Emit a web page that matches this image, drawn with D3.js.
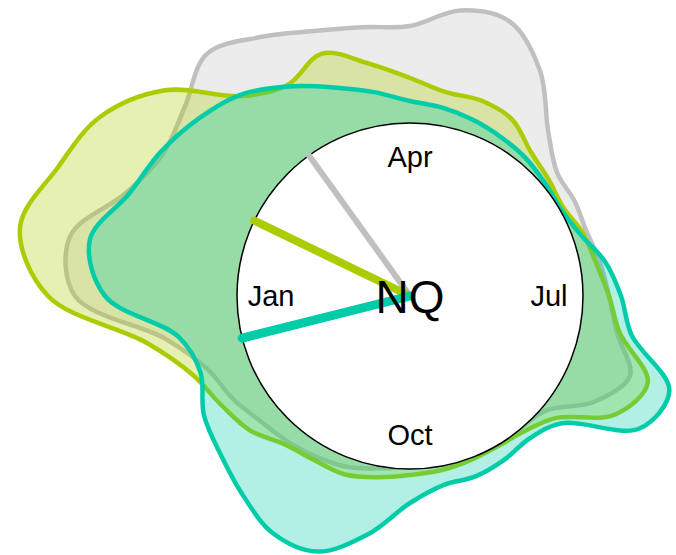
<!DOCTYPE html>
<html>
<head>
<meta charset="utf-8">
<script src="https://cdn.jsdelivr.net/npm/d3@7"></script>
<style>
  html, body { margin: 0; padding: 0; background: #fff; }
  svg { display: block; }
  text { font-family: "Liberation Sans", Arial, sans-serif; }
</style>
</head>
<body>
<svg id="chart" width="676" height="555"></svg>
<script>
// 36 dekads (10-day periods) around the year
const months = ["Jan","Feb","Mar","Apr","May","Jun","Jul","Aug","Sep","Oct","Nov","Dec"];
const dekads = months.flatMap(m => [m + "-1", m + "-2", m + "-3"]);
const monthLabels = ["Jan", "Apr", "Jul", "Oct"];
const monthLabelPos = [0, 3, 6, 9];

const seriesNames = ["grey", "yellowgreen", "teal"];
const greyValues = [167.5,172.5,151,142.5,147,158,149.5,141,136.5,135,145,146,130,107.5,96,95,94,96.5,99.5,105,117,106,89,86,86,87,86,85.5,87.5,91,93,95,97.5,102.5,107.5,124];
const yellowValues = [181,198,187.5,179,160,130.5,122,129,118,109,103.5,104,102,94,90.5,88.5,92,94.5,99.5,106.5,126.5,118.5,95,88.5,87,87.5,88.5,89.5,92,95,95,97,104.5,109,115.5,134];
const tealValues = [152.5,162.5,149.5,144,138,131.5,121,111,103.5,97.5,95.5,93.5,91.5,90,88,87,90.5,99,105.5,112.5,138,132.5,99,93,94.5,96,96,103.5,121,136,137,130,123.5,119,111.5,117.5];
// mean direction (in months from Jan 1) for each series
const peakMonths = [1.81, 0.86, 11.53];
const centerLabel = "NQ";

const colors = ["#c0c0c0", "#aacc00", "#00ccaa"];
const needleWidths = [6, 8, 9];

const W = 676, H = 555;
const cx = 410, cy = 296;
const innerR = 173;

const svg = d3.select("#chart");
const g = svg.append("g").attr("transform", `translate(${cx},${cy})`);

// angle: Jan at 9 o'clock, going clockwise
const angleBand = d3.scaleBand().domain(dekads).range([-Math.PI / 2, 3 * Math.PI / 2]).paddingInner(0).paddingOuter(0).align(0);
const monthAngle = d3.scaleLinear().domain([0, 12]).range([-Math.PI / 2, 3 * Math.PI / 2]);
const rScale = d3.scaleLinear().domain([0, 100]).range([0, 200]);

const allValues = [greyValues, yellowValues, tealValues];

const line = d3.lineRadial()
  .angle(d => angleBand(d.k))
  .radius(d => rScale(d.v))
  .curve(d3.curveCatmullRomClosed.alpha(0.5));

allValues.forEach((vals, i) => {
  const data = dekads.map((k, j) => ({ k, v: vals[j] }));
  g.append("path")
    .attr("d", line(data))
    .attr("fill", colors[i])
    .attr("fill-opacity", 0.3)
    .attr("stroke", colors[i])
    .attr("stroke-width", 4.5)
    .attr("stroke-linejoin", "round");
});

// clock face
g.append("circle")
  .attr("r", innerR)
  .attr("fill", "#fff")
  .attr("stroke", "#000")
  .attr("stroke-width", 1.5);

// needles
peakMonths.forEach((m, i) => {
  const a = monthAngle(m);
  g.append("line")
    .attr("x1", 0).attr("y1", 0)
    .attr("x2", innerR * Math.sin(a))
    .attr("y2", -innerR * Math.cos(a))
    .attr("stroke", colors[i])
    .attr("stroke-width", needleWidths[i])
    .attr("stroke-linecap", "round");
});

// month labels
monthLabels.forEach((t, i) => {
  const a = monthAngle(monthLabelPos[i]);
  const r = 139;
  g.append("text")
    .attr("x", r * Math.sin(a))
    .attr("y", -r * Math.cos(a))
    .attr("dy", "0.36em")
    .attr("text-anchor", "middle")
    .attr("font-size", 29)
    .attr("fill", "#000")
    .text(t);
});

g.append("text")
  .attr("x", 0)
  .attr("y", 0)
  .attr("dy", "0.36em")
  .attr("text-anchor", "middle")
  .attr("font-size", 46)
  .attr("fill", "#000")
  .text(centerLabel);
</script>
</body>
</html>
